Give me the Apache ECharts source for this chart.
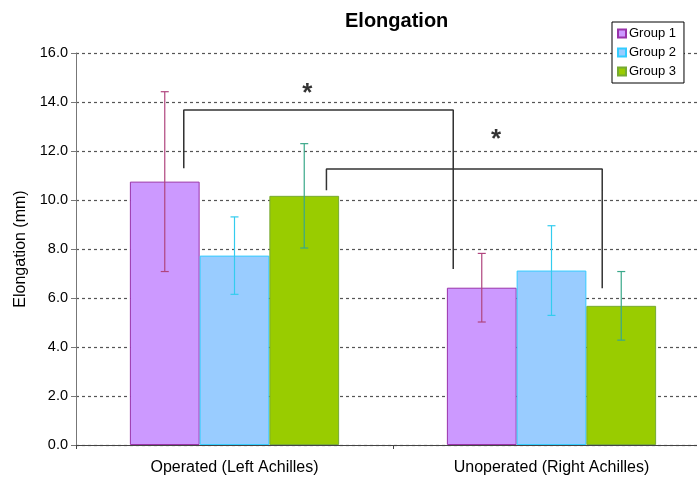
<!DOCTYPE html>
<html>
<head>
<meta charset="utf-8">
<script src="https://cdn.jsdelivr.net/npm/echarts@6/dist/echarts.min.js"></script>
<style>
  html, body { margin: 0; padding: 0; background: #fff; overflow: hidden; }
  #chart { width: 712px; height: 479px; }
</style>
</head>
<body>
<div id="chart"></div>
<script>
// categories and groups
let categories = ['Operated (Left Achilles)', 'Unoperated (Right Achilles)'];
let groupNames = ['Group 1', 'Group 2', 'Group 3'];

// means and error (+/-) per group
let group1Mean = [10.75, 6.42];
let group1Err = [3.67, 1.40];
let group2Mean = [7.73, 7.12];
let group2Err = [1.58, 1.83];
let group3Mean = [10.17, 5.68];
let group3Err = [2.13, 1.40];

// significance brackets, x in category units (0..2 across the axis)
let bracket1 = [[0.34, 11.3], [0.34, 13.67], [1.19, 13.67], [1.19, 7.18]];
let bracket2 = [[0.79, 10.4], [0.79, 11.27], [1.66, 11.27], [1.66, 6.4]];
let stars = [[0.73, 14.35], [1.325, 12.45]];

let yTicks = { min: 0, max: 16, interval: 2 };

let barColors = ['#cc99ff', '#99ccff', '#99cc00'];
let barBorders = ['#9933aa', '#33ccff', '#77aa33'];
let errColors = ['#b0457e', '#33ccee', '#3aa88a'];

let means = [group1Mean, group2Mean, group3Mean];
let errs = [group1Err, group2Err, group3Err];

let chart = echarts.init(document.getElementById('chart'));

let catGapFrac = 0.66; // bars occupy 66% of band

let series = [];
groupNames.forEach(function (name, g) {
    series.push({
        name: name,
        type: 'bar',
        xAxisIndex: 0,
        data: means[g],
        barGap: '0%',
        barCategoryGap: '34%',
        itemStyle: { color: barColors[g], borderColor: barBorders[g], borderWidth: 1 }
    });
});

groupNames.forEach(function (name, g) {
    series.push({
        type: 'custom',
        xAxisIndex: 0,
        silent: true,
        z: 5,
        data: categories.map(function (c, i) { return [i, means[g][i], errs[g][i]]; }),
        renderItem: function (params, api) {
            let cat = api.value(0);
            let m = api.value(1);
            let e = api.value(2);
            let band = api.size([1, 0])[0];
            let bw = band * catGapFrac / 3;
            let x = api.coord([cat, m])[0] + (g - 1) * bw;
            let yt = api.coord([cat, m + e])[1];
            let yb = api.coord([cat, m - e])[1];
            let style = { stroke: errColors[g], lineWidth: 1.2 };
            return {
                type: 'group',
                children: [
                    { type: 'line', shape: { x1: x, y1: yt, x2: x, y2: yb }, style: style },
                    { type: 'line', shape: { x1: x - 4, y1: yt, x2: x + 4, y2: yt }, style: style },
                    { type: 'line', shape: { x1: x - 4, y1: yb, x2: x + 4, y2: yb }, style: style }
                ]
            };
        }
    });
});

[bracket1, bracket2].forEach(function (b) {
    series.push({
        type: 'line',
        xAxisIndex: 1,
        data: b,
        symbol: 'none',
        silent: true,
        z: 6,
        lineStyle: { color: '#333', width: 1.5 }
    });
});

series.push({
    type: 'scatter',
    xAxisIndex: 1,
    data: stars,
    symbolSize: 1,
    itemStyle: { color: 'transparent' },
    label: {
        show: true,
        position: 'inside',
        formatter: '*',
        fontSize: 26,
        fontWeight: 'bold',
        color: '#000',
        fontFamily: 'Liberation Sans'
    }
});

let option = {
    animation: false,
    textStyle: { fontFamily: 'Liberation Sans' },
    title: {
        text: 'Elongation',
        left: 340,
        top: 6,
        textStyle: { fontSize: 20, fontWeight: 'bold', color: '#000', fontFamily: 'Liberation Sans' }
    },
    legend: {
        data: groupNames,
        orient: 'vertical',
        left: 612,
        top: 22,
        padding: [5, 8, 5, 5],
        itemGap: 6,
        itemWidth: 8,
        itemHeight: 8,
        icon: 'rect',
        borderColor: '#000',
        borderWidth: 1,
        backgroundColor: '#fff',
        textStyle: { fontSize: 13, color: '#000', padding: [0, 0, 0, -2] }
    },
    grid: { left: 76, top: 53, width: 634, height: 392 },
    xAxis: [
        {
            type: 'category',
            data: categories,
            axisLine: { lineStyle: { color: '#444', width: 1 } },
            axisTick: { show: true, length: 4, lineStyle: { color: '#444' } },
            axisLabel: { fontSize: 16, color: '#000', margin: 15 }
        },
        {
            type: 'value',
            min: 0,
            max: 2,
            show: false
        }
    ],
    yAxis: {
        type: 'value',
        min: yTicks.min,
        max: yTicks.max,
        interval: yTicks.interval,
        name: 'Elongation (mm)',
        nameLocation: 'middle',
        nameGap: 46,
        nameTextStyle: { fontSize: 16, color: '#000' },
        axisLine: { show: true, lineStyle: { color: '#777' } },
        axisTick: { show: true, length: 5, lineStyle: { color: '#777' } },
        axisLabel: {
            fontSize: 14.5,
            color: '#000',
            margin: 8,
            formatter: function (v) { return v.toFixed(1); }
        },
        splitLine: { lineStyle: { color: '#555', type: [3, 3], width: 1.2 } }
    },
    series: series
};

chart.setOption(option);
</script>
</body>
</html>
